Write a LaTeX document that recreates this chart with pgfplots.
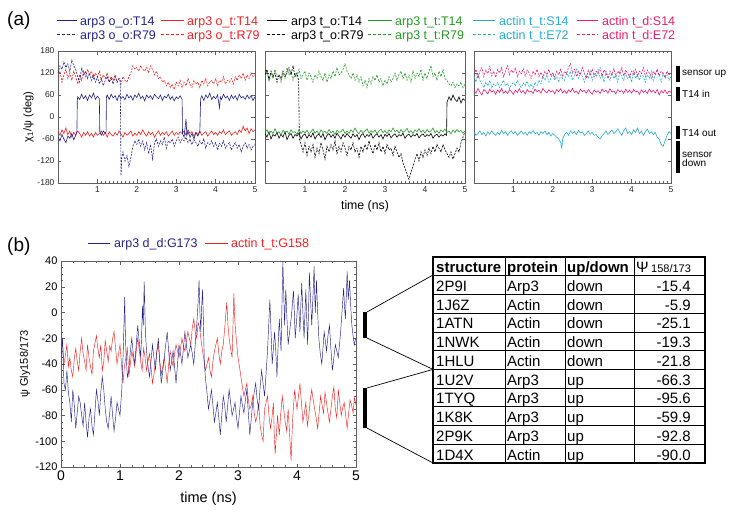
\documentclass[border=0pt]{standalone}
\usepackage{pgfplots}
\pgfplotsset{compat=1.18}
\usepackage{fontspec}
\setmainfont{Liberation Sans}

\definecolor{cnavy}{RGB}{35,35,135}
\definecolor{cred}{RGB}{235,35,35}
\definecolor{cgreen}{RGB}{40,150,40}
\definecolor{ccyan}{RGB}{40,170,210}
\definecolor{cpink}{RGB}{230,30,110}
\definecolor{cframe}{RGB}{95,95,95}

\pgfplotsset{
  panelA/.style={anchor=north west, scale only axis, height=132pt,
    xmin=0, xmax=5, ymin=-180, ymax=180,
    xtick={1,2,3,4,5}, minor x tick num=9,
    ytick={-180,-120,...,180},
    axis line style={cframe}, tick style={cframe, line width=0.4pt},
    major tick length=3.5pt, minor tick length=2pt,
    tick label style={font=\fontsize{8.5}{9}\selectfont, text=black!85},
    /pgf/number format/assume math mode=true},
  sol/.style={line width=0.6pt},
  dsh/.style={line width=0.6pt, dash pattern=on 2pt off 1.2pt},
}

\begin{document}
\begin{tikzpicture}
\path[use as bounding box] (0,0) rectangle (729pt,-514pt);

% ---------- (a) legend ----------
\node[anchor=base west, inner sep=0, font=\fontsize{19}{20}\selectfont] at (7pt,-25pt) {(a)};
\begin{scope}[font=\fontsize{12.5}{13}\selectfont]
\foreach \xa/\xb/\xt/\col/\la/\lb in {
  57/77/80/cnavy/arp3 o\_o:T14/arp3 o\_o:R79,
  161/184/187/cred/arp3 o\_t:T14/arp3 o\_t:R79,
  267/287/291/black/arp3 t\_o:T14/arp3 t\_o:R79,
  368/392/395/cgreen/arp3 t\_t:T14/arp3 t\_t:R79,
  473/495/499/ccyan/actin t\_t:S14/actin t\_t:E72,
  577/598/602/cpink/actin t\_d:S14/actin t\_d:E72}{
  \draw[\col, line width=0.9pt] (\xa pt,-20.5pt) -- (\xb pt,-20.5pt);
  \node[anchor=base west, inner sep=0, text=\col] at (\xt pt,-25pt) {\la};
  \draw[\col, line width=0.9pt, dash pattern=on 3pt off 2pt] (\xa pt,-34.5pt) -- (\xb pt,-34.5pt);
  \node[anchor=base west, inner sep=0, text=\col] at (\xt pt,-39pt) {\lb};
}
\end{scope}

% ---------- (a) panel 1 ----------
\begin{axis}[panelA, at={(58pt,-51pt)}, width=197pt,
  ylabel={χ\textsubscript{1}/ψ (deg)},
  ylabel style={at={(axis description cs:-0.15,0.5)}, anchor=center, font=\fontsize{11}{12}\selectfont}]
\addplot[dsh, cred] coordinates {(0,110)(0.05,125)(0.1,95)(0.15,115)(0.2,130)(0.25,105)(0.3,120)(0.35,100)(0.4,125)(0.45,110)(0.5,90)(0.55,115)(0.6,100)(0.65,125)(0.7,110)(0.75,130)(0.8,115)(0.85,125)(0.9,105)(0.95,120)(1.0,110)(1.05,125)(1.1,100)(1.15,115)(1.2,105)(1.25,120)(1.3,95)(1.35,110)(1.4,100)(1.45,115)(1.5,95)(1.55,105)(1.6,90)(1.65,110)(1.7,100)(1.75,95)(1.8,110)(1.85,120)(1.9,140)(1.95,130)(2.0,135)(2.05,125)(2.1,140)(2.15,130)(2.2,125)(2.25,135)(2.3,120)(2.35,140)(2.4,130)(2.45,115)(2.5,125)(2.55,105)(2.6,110)(2.65,95)(2.7,100)(2.75,85)(2.8,95)(2.85,80)(2.9,90)(2.95,75)(3.0,95)(3.05,85)(3.1,100)(3.15,80)(3.2,95)(3.25,85)(3.3,105)(3.35,90)(3.4,80)(3.45,100)(3.5,90)(3.55,95)(3.6,80)(3.65,100)(3.7,90)(3.75,105)(3.8,85)(3.85,95)(3.9,100)(3.95,90)(4.0,105)(4.05,85)(4.1,100)(4.15,95)(4.2,110)(4.25,90)(4.3,100)(4.35,95)(4.4,105)(4.45,90)(4.5,110)(4.55,100)(4.6,115)(4.65,105)(4.7,120)(4.75,100)(4.8,115)(4.85,105)(4.9,120)(4.95,110)(5.0,115)};
\addplot[dsh, cnavy] coordinates {(0,120)(0.05,140)(0.1,130)(0.15,150)(0.2,135)(0.25,145)(0.3,125)(0.35,155)(0.4,140)(0.45,130)(0.5,110)(0.55,95)(0.6,135)(0.65,115)(0.7,125)(0.75,105)(0.8,120)(0.85,100)(0.9,115)(0.95,95)(1.0,110)(1.05,90)(1.1,105)(1.15,85)(1.2,100)(1.25,110)(1.3,95)(1.35,105)(1.4,90)(1.45,110)(1.5,95)(1.55,105)(1.58,100)(1.6,-160)(1.62,-110)(1.65,-95)(1.7,-120)(1.75,-105)(1.8,-135)(1.85,-110)(1.9,-80)(1.95,-65)(2.0,-75)(2.05,-60)(2.1,-80)(2.15,-65)(2.2,-90)(2.25,-70)(2.3,-100)(2.35,-75)(2.4,-115)(2.45,-70)(2.5,-60)(2.55,-80)(2.6,-65)(2.65,-75)(2.7,-55)(2.75,-85)(2.8,-65)(2.85,-70)(2.9,-60)(2.95,-80)(3.0,-65)(3.05,-55)(3.1,-70)(3.15,-60)(3.2,-65)(3.25,-55)(3.3,-70)(3.35,-60)(3.4,-75)(3.45,-62)(3.5,-70)(3.55,-80)(3.6,-65)(3.65,-75)(3.7,-60)(3.75,-85)(3.8,-70)(3.85,-75)(3.9,-65)(3.95,-80)(4.0,-70)(4.05,-90)(4.1,-72)(4.15,-80)(4.2,-65)(4.25,-85)(4.3,-75)(4.35,-70)(4.4,-90)(4.45,-78)(4.5,-70)(4.55,-85)(4.6,-75)(4.65,-95)(4.7,-80)(4.75,-70)(4.8,-85)(4.85,-75)(4.9,-90)(4.95,-80)(5.0,-75)};
\addplot[sol, cred] coordinates {(0,-40)(0.05,-50)(0.1,-35)(0.15,-45)(0.2,-30)(0.25,-48)(0.3,-38)(0.35,-55)(0.4,-42)(0.45,-50)(0.5,-38)(0.55,-45)(0.6,-55)(0.65,-42)(0.7,-50)(0.75,-40)(0.8,-52)(0.85,-45)(0.9,-55)(0.95,-42)(1.0,-50)(1.05,-45)(1.1,-38)(1.15,-50)(1.2,-43)(1.25,-55)(1.3,-40)(1.35,-48)(1.4,-52)(1.45,-42)(1.5,-50)(1.55,-38)(1.6,-47)(1.65,-55)(1.7,-42)(1.75,-50)(1.8,-45)(1.85,-38)(1.9,-52)(1.95,-44)(2.0,-50)(2.05,-40)(2.1,-48)(2.15,-35)(2.2,-45)(2.25,-52)(2.3,-40)(2.35,-48)(2.4,-42)(2.45,-55)(2.5,-45)(2.55,-38)(2.6,-50)(2.65,-42)(2.7,-48)(2.75,-40)(2.8,-52)(2.85,-45)(2.9,-38)(2.95,-50)(3.0,-42)(3.05,-48)(3.1,-40)(3.15,-45)(3.2,-38)(3.25,-50)(3.3,-35)(3.35,-45)(3.4,-40)(3.45,-52)(3.5,-42)(3.55,-48)(3.6,-38)(3.65,-50)(3.7,-44)(3.75,-40)(3.8,-52)(3.85,-45)(3.9,-38)(3.95,-48)(4.0,-42)(4.05,-50)(4.1,-40)(4.15,-45)(4.2,-35)(4.25,-48)(4.3,-42)(4.35,-38)(4.4,-50)(4.45,-44)(4.5,-40)(4.55,-48)(4.6,-35)(4.65,-42)(4.7,-25)(4.75,-38)(4.8,-30)(4.85,-45)(4.9,-32)(4.95,-40)(5.0,-35)};
\addplot[sol, cnavy] coordinates {(0,-55)(0.05,-65)(0.1,-48)(0.15,-60)(0.2,-70)(0.25,-52)(0.3,-58)(0.35,-45)(0.4,-62)(0.45,-50)(0.48,-40)(0.49,45)(0.5,55)(0.55,48)(0.6,62)(0.65,50)(0.7,58)(0.75,45)(0.8,60)(0.85,52)(0.9,65)(0.95,48)(1.0,57)(1.05,50)(1.06,-40)(1.1,-50)(1.15,-38)(1.2,-45)(1.22,-40)(1.23,55)(1.25,60)(1.3,48)(1.35,62)(1.4,52)(1.45,58)(1.5,45)(1.55,60)(1.6,50)(1.65,56)(1.7,47)(1.75,62)(1.8,52)(1.85,58)(1.9,46)(1.95,60)(2.0,53)(2.05,65)(2.1,50)(2.15,57)(2.2,44)(2.25,60)(2.3,52)(2.35,58)(2.4,48)(2.45,62)(2.5,55)(2.55,50)(2.6,60)(2.65,45)(2.7,57)(2.75,52)(2.8,62)(2.85,48)(2.9,56)(2.95,44)(3.0,55)(3.05,50)(3.1,58)(3.15,48)(3.16,-45)(3.2,-55)(3.25,-5)(3.27,-50)(3.3,-40)(3.35,-55)(3.4,-45)(3.45,-60)(3.5,-42)(3.55,-52)(3.6,-40)(3.62,50)(3.65,58)(3.7,45)(3.75,60)(3.8,52)(3.85,65)(3.9,48)(3.95,56)(4.0,50)(4.05,60)(4.1,25)(4.12,55)(4.15,48)(4.2,62)(4.25,52)(4.3,57)(4.35,45)(4.4,60)(4.45,50)(4.5,58)(4.55,46)(4.6,62)(4.65,52)(4.7,56)(4.75,48)(4.8,60)(4.85,50)(4.9,58)(4.95,45)(5.0,55)};
\end{axis}

% ---------- (a) panel 2 ----------
\begin{axis}[panelA, at={(265pt,-51pt)}, width=200pt, yticklabels={},
  xlabel={time (ns)},
  xlabel style={at={(axis description cs:0.5,-0.18)}, anchor=center, font=\fontsize{12.3}{13}\selectfont}]
\addplot[dsh, cgreen] coordinates {(0,110)(0.05,125)(0.1,100)(0.15,120)(0.2,105)(0.25,130)(0.3,110)(0.35,115)(0.4,95)(0.45,120)(0.5,105)(0.55,135)(0.6,115)(0.65,125)(0.7,100)(0.75,120)(0.8,110)(0.85,130)(0.9,105)(0.95,115)(1.0,125)(1.05,100)(1.1,120)(1.15,110)(1.2,95)(1.25,115)(1.3,105)(1.35,125)(1.4,110)(1.45,100)(1.5,120)(1.55,95)(1.6,115)(1.65,105)(1.7,125)(1.75,110)(1.8,135)(1.85,115)(1.9,120)(1.95,130)(2.0,145)(2.05,125)(2.1,115)(2.15,105)(2.2,120)(2.25,100)(2.3,115)(2.35,95)(2.4,110)(2.45,85)(2.5,100)(2.55,80)(2.6,105)(2.65,90)(2.7,110)(2.75,100)(2.8,115)(2.85,95)(2.9,105)(2.95,85)(3.0,100)(3.05,90)(3.1,110)(3.15,95)(3.2,105)(3.25,120)(3.3,100)(3.35,115)(3.4,125)(3.45,105)(3.5,120)(3.55,100)(3.6,115)(3.65,95)(3.7,125)(3.75,105)(3.8,120)(3.85,110)(3.9,130)(3.95,100)(4.0,120)(4.05,105)(4.1,125)(4.15,140)(4.2,110)(4.25,120)(4.3,100)(4.35,125)(4.4,110)(4.45,130)(4.5,105)(4.55,100)(4.6,90)(4.65,85)(4.7,95)(4.75,80)(4.8,90)(4.85,85)(4.9,95)(4.95,80)(5.0,90)};
\addplot[dsh, black] coordinates {(0,115)(0.05,130)(0.1,100)(0.15,125)(0.2,110)(0.25,120)(0.3,95)(0.35,115)(0.4,105)(0.45,125)(0.5,110)(0.55,120)(0.6,135)(0.65,115)(0.7,140)(0.75,110)(0.8,120)(0.84,100)(0.86,-60)(0.9,-75)(0.95,-95)(1.0,-70)(1.05,-105)(1.1,-80)(1.15,-95)(1.2,-75)(1.25,-110)(1.3,-85)(1.35,-100)(1.4,-70)(1.45,-90)(1.5,-115)(1.55,-80)(1.6,-95)(1.65,-75)(1.7,-90)(1.75,-65)(1.8,-100)(1.85,-80)(1.9,-95)(1.95,-70)(2.0,-85)(2.05,-105)(2.1,-80)(2.15,-90)(2.2,-70)(2.25,-95)(2.3,-85)(2.35,-110)(2.4,-80)(2.45,-95)(2.5,-75)(2.55,-90)(2.6,-65)(2.65,-85)(2.7,-100)(2.75,-75)(2.8,-90)(2.85,-70)(2.9,-95)(2.95,-80)(3.0,-100)(3.05,-75)(3.1,-90)(3.15,-85)(3.2,-105)(3.25,-80)(3.3,-95)(3.35,-110)(3.4,-100)(3.45,-125)(3.5,-140)(3.55,-155)(3.6,-170)(3.65,-150)(3.7,-135)(3.75,-115)(3.8,-100)(3.85,-120)(3.9,-95)(3.95,-110)(4.0,-90)(4.05,-105)(4.1,-85)(4.15,-100)(4.2,-80)(4.25,-95)(4.3,-75)(4.35,-85)(4.4,-95)(4.45,-75)(4.5,-90)(4.55,-100)(4.6,-110)(4.65,-95)(4.7,-115)(4.75,-100)(4.8,-85)(4.85,-95)(4.9,-70)(4.95,-55)(5.0,-40)};
\addplot[sol, black] coordinates {(0,-45)(0.05,-55)(0.1,-40)(0.15,-60)(0.2,-48)(0.25,-52)(0.3,-42)(0.35,-58)(0.4,-47)(0.45,-55)(0.5,-40)(0.55,-62)(0.6,-50)(0.65,-45)(0.7,-58)(0.75,-48)(0.8,-52)(0.85,-44)(0.9,-60)(0.95,-50)(1.0,-46)(1.05,-58)(1.1,-48)(1.15,-55)(1.2,-43)(1.25,-60)(1.3,-50)(1.35,-47)(1.4,-56)(1.45,-45)(1.5,-62)(1.55,-50)(1.6,-45)(1.65,-55)(1.7,-48)(1.75,-58)(1.8,-44)(1.85,-52)(1.9,-60)(1.95,-47)(2.0,-55)(2.05,-45)(2.1,-52)(2.15,-58)(2.2,-46)(2.25,-54)(2.3,-48)(2.35,-62)(2.4,-50)(2.45,-45)(2.5,-56)(2.55,-48)(2.6,-53)(2.65,-44)(2.7,-58)(2.75,-50)(2.8,-46)(2.85,-55)(2.9,-48)(2.95,-60)(3.0,-47)(3.05,-53)(3.1,-45)(3.15,-57)(3.2,-50)(3.25,-46)(3.3,-55)(3.35,-48)(3.4,-52)(3.45,-44)(3.5,-58)(3.55,-50)(3.6,-47)(3.65,-55)(3.7,-48)(3.75,-52)(3.8,-45)(3.85,-57)(3.9,-50)(3.95,-46)(4.0,-54)(4.05,-48)(4.1,-52)(4.15,-45)(4.2,-58)(4.25,-50)(4.3,-47)(4.35,-55)(4.4,-48)(4.45,-52)(4.5,-46)(4.54,-50)(4.55,40)(4.6,55)(4.65,45)(4.7,60)(4.75,48)(4.8,42)(4.85,55)(4.9,38)(4.95,50)(5.0,45)};
\addplot[sol, cgreen] coordinates {(0,-42)(0.05,-35)(0.1,-48)(0.15,-38)(0.2,-45)(0.25,-32)(0.3,-44)(0.35,-40)(0.4,-50)(0.45,-36)(0.5,-43)(0.55,-38)(0.6,-47)(0.65,-35)(0.7,-42)(0.75,-40)(0.8,-48)(0.85,-34)(0.9,-45)(0.95,-38)(1.0,-43)(1.05,-36)(1.1,-46)(1.15,-40)(1.2,-33)(1.25,-44)(1.3,-38)(1.35,-47)(1.4,-35)(1.45,-42)(1.5,-39)(1.55,-45)(1.6,-34)(1.65,-43)(1.7,-38)(1.75,-48)(1.8,-36)(1.85,-42)(1.9,-40)(1.95,-33)(2.0,-45)(2.05,-38)(2.1,-44)(2.15,-35)(2.2,-42)(2.25,-30)(2.3,-40)(2.35,-46)(2.4,-36)(2.45,-43)(2.5,-38)(2.55,-32)(2.6,-44)(2.65,-37)(2.7,-42)(2.75,-35)(2.8,-46)(2.85,-38)(2.9,-33)(2.95,-43)(3.0,-37)(3.05,-45)(3.1,-35)(3.15,-41)(3.2,-30)(3.25,-40)(3.3,-36)(3.35,-44)(3.4,-34)(3.45,-42)(3.5,-38)(3.55,-31)(3.6,-43)(3.65,-37)(3.7,-45)(3.75,-35)(3.8,-40)(3.85,-32)(3.9,-42)(3.95,-36)(4.0,-44)(4.05,-34)(4.1,-41)(4.15,-38)(4.2,-30)(4.25,-43)(4.3,-37)(4.35,-45)(4.4,-35)(4.45,-40)(4.5,-33)(4.55,-42)(4.6,-38)(4.65,-46)(4.7,-36)(4.75,-42)(4.8,-34)(4.85,-40)(4.9,-37)(4.95,-44)(5.0,-38)};
\end{axis}

% ---------- (a) panel 3 ----------
\begin{axis}[panelA, at={(474pt,-51pt)}, width=197pt, yticklabels={}]
\addplot[dsh, ccyan] coordinates {(0,110)(0.05,95)(0.1,120)(0.15,100)(0.2,90)(0.25,80)(0.3,95)(0.35,85)(0.4,100)(0.45,80)(0.5,90)(0.55,85)(0.6,95)(0.65,80)(0.7,90)(0.75,100)(0.8,85)(0.85,92)(0.9,78)(0.95,88)(1.0,95)(1.05,85)(1.1,100)(1.15,88)(1.2,80)(1.25,92)(1.3,85)(1.35,98)(1.4,82)(1.45,90)(1.5,75)(1.55,95)(1.6,85)(1.65,100)(1.7,90)(1.75,110)(1.8,100)(1.85,115)(1.9,95)(1.95,105)(2.0,120)(2.05,100)(2.1,110)(2.15,95)(2.2,115)(2.25,105)(2.3,100)(2.35,120)(2.4,110)(2.45,125)(2.5,100)(2.55,115)(2.6,130)(2.65,105)(2.7,120)(2.75,110)(2.8,95)(2.85,115)(2.9,105)(2.95,125)(3.0,100)(3.05,120)(3.1,110)(3.15,130)(3.2,105)(3.25,115)(3.3,95)(3.35,125)(3.4,110)(3.45,100)(3.5,120)(3.55,105)(3.6,115)(3.65,95)(3.7,125)(3.75,110)(3.8,100)(3.85,120)(3.9,105)(3.95,115)(4.0,95)(4.05,125)(4.1,105)(4.15,115)(4.2,100)(4.25,120)(4.3,110)(4.35,95)(4.4,115)(4.45,105)(4.5,125)(4.55,100)(4.6,115)(4.65,130)(4.7,110)(4.75,95)(4.8,120)(4.85,105)(4.9,115)(4.95,100)(5.0,110)};
\addplot[dsh, cpink] coordinates {(0,115)(0.05,130)(0.1,105)(0.15,125)(0.2,135)(0.25,110)(0.3,128)(0.35,118)(0.4,138)(0.45,112)(0.5,125)(0.55,108)(0.6,130)(0.65,120)(0.7,135)(0.75,110)(0.8,125)(0.85,140)(0.9,115)(0.95,128)(1.0,120)(1.05,135)(1.1,110)(1.15,125)(1.2,118)(1.25,132)(1.3,112)(1.35,128)(1.4,120)(1.45,105)(1.5,125)(1.55,115)(1.6,130)(1.65,110)(1.7,122)(1.75,108)(1.8,125)(1.85,115)(1.9,130)(1.95,112)(2.0,120)(2.05,108)(2.1,125)(2.15,115)(2.2,130)(2.25,110)(2.3,125)(2.35,118)(2.4,135)(2.45,145)(2.5,120)(2.55,130)(2.6,110)(2.65,125)(2.7,115)(2.75,135)(2.8,120)(2.85,105)(2.9,128)(2.95,115)(3.0,130)(3.05,110)(3.1,125)(3.15,118)(3.2,135)(3.25,112)(3.3,128)(3.35,120)(3.4,105)(3.45,125)(3.5,115)(3.55,132)(3.6,110)(3.65,125)(3.7,118)(3.75,135)(3.8,112)(3.85,128)(3.9,120)(3.95,108)(4.0,125)(4.05,115)(4.1,130)(4.15,112)(4.2,125)(4.25,118)(4.3,135)(4.35,110)(4.4,128)(4.45,120)(4.5,105)(4.55,125)(4.6,115)(4.65,130)(4.7,112)(4.75,125)(4.8,118)(4.85,108)(4.9,125)(4.95,115)(5.0,120)};
\addplot[sol, cpink] coordinates {(0,72)(0.05,65)(0.1,78)(0.15,68)(0.2,60)(0.25,75)(0.3,70)(0.35,63)(0.4,76)(0.45,68)(0.5,72)(0.55,62)(0.6,74)(0.65,67)(0.7,78)(0.75,65)(0.8,71)(0.85,64)(0.9,75)(0.95,69)(1.0,62)(1.05,73)(1.1,67)(1.15,77)(1.2,66)(1.25,72)(1.3,63)(1.35,75)(1.4,68)(1.45,71)(1.5,64)(1.55,76)(1.6,69)(1.65,73)(1.7,65)(1.75,78)(1.8,70)(1.85,66)(1.9,74)(1.95,68)(2.0,72)(2.05,63)(2.1,75)(2.15,69)(2.2,77)(2.25,66)(2.3,72)(2.35,64)(2.4,74)(2.45,68)(2.5,78)(2.55,67)(2.6,71)(2.65,63)(2.7,76)(2.75,69)(2.8,73)(2.85,65)(2.9,75)(2.95,68)(3.0,62)(3.05,74)(3.1,67)(3.15,72)(3.2,64)(3.25,76)(3.3,69)(3.35,73)(3.4,65)(3.45,77)(3.5,68)(3.55,71)(3.6,63)(3.65,75)(3.7,69)(3.75,72)(3.8,64)(3.85,76)(3.9,67)(3.95,73)(4.0,65)(4.05,75)(4.1,68)(4.15,71)(4.2,62)(4.25,74)(4.3,67)(4.35,72)(4.4,64)(4.45,76)(4.5,68)(4.55,73)(4.6,65)(4.65,75)(4.7,60)(4.75,72)(4.8,66)(4.85,74)(4.9,63)(4.95,71)(5.0,67)};
\addplot[sol, ccyan] coordinates {(0,-40)(0.05,-50)(0.1,-45)(0.15,-38)(0.2,-48)(0.25,-42)(0.3,-52)(0.35,-40)(0.4,-47)(0.45,-38)(0.5,-45)(0.55,-50)(0.6,-42)(0.65,-48)(0.7,-36)(0.75,-45)(0.8,-40)(0.85,-50)(0.9,-43)(0.95,-38)(1.0,-46)(1.05,-40)(1.1,-50)(1.15,-44)(1.2,-38)(1.25,-47)(1.3,-42)(1.35,-50)(1.4,-40)(1.45,-45)(1.5,-37)(1.55,-46)(1.6,-42)(1.65,-50)(1.7,-40)(1.75,-45)(1.8,-38)(1.85,-48)(1.9,-42)(1.95,-52)(2.0,-45)(2.05,-50)(2.1,-55)(2.15,-60)(2.2,-70)(2.23,-85)(2.25,-60)(2.3,-48)(2.35,-42)(2.4,-50)(2.45,-38)(2.5,-45)(2.55,-40)(2.6,-48)(2.65,-36)(2.7,-44)(2.75,-40)(2.8,-50)(2.85,-45)(2.9,-38)(2.95,-47)(3.0,-42)(3.05,-50)(3.1,-48)(3.15,-55)(3.2,-60)(3.25,-52)(3.3,-45)(3.35,-38)(3.4,-48)(3.45,-42)(3.5,-35)(3.55,-45)(3.6,-40)(3.65,-32)(3.7,-42)(3.75,-50)(3.8,-38)(3.85,-30)(3.9,-45)(3.95,-40)(4.0,-48)(4.05,-35)(4.1,-42)(4.15,-30)(4.2,-45)(4.25,-38)(4.3,-50)(4.35,-40)(4.4,-33)(4.45,-45)(4.5,-40)(4.55,-48)(4.6,-42)(4.65,-55)(4.7,-60)(4.75,-75)(4.8,-80)(4.85,-65)(4.9,-50)(4.95,-40)(5.0,-45)};
\end{axis}

% annotations right of panel 3
\begin{scope}[font=\fontsize{10}{11}\selectfont]
\draw[line width=4pt] (678pt,-66pt) -- (678pt,-82pt);
\draw[line width=4pt] (678pt,-87pt) -- (678pt,-101pt);
\draw[line width=4pt] (678pt,-126pt) -- (678pt,-139pt);
\draw[line width=4pt] (678pt,-141pt) -- (678pt,-173pt);
\node[anchor=west, inner sep=0] at (682pt,-74pt) {sensor up};
\node[anchor=west, inner sep=0] at (682pt,-94pt) {T14 in};
\node[anchor=west, inner sep=0] at (682pt,-133pt) {T14 out};
\node[anchor=west, inner sep=0, align=left] at (682pt,-159pt) {sensor\\[-2pt]down};
\end{scope}

% ---------- (b) ----------
\node[anchor=base west, inner sep=0, font=\fontsize{19}{20}\selectfont] at (7pt,-251pt) {(b)};
\begin{scope}[font=\fontsize{12.5}{13}\selectfont]
\draw[cnavy, line width=0.9pt] (88pt,-243pt) -- (110pt,-243pt);
\node[anchor=base west, inner sep=0, text=cnavy] at (114pt,-247.5pt) {arp3 d\_d:G173};
\draw[cred, line width=0.9pt] (205pt,-243pt) -- (228pt,-243pt);
\node[anchor=base west, inner sep=0, text=cred] at (231pt,-247.5pt) {actin t\_t:G158};
\end{scope}

\begin{axis}[anchor=north west, at={(61pt,-261pt)}, scale only axis, width=295pt, height=206pt,
  xmin=0, xmax=5, ymin=-120, ymax=40,
  xtick={0,...,5}, minor x tick num=4,
  ytick={-120,-100,...,40}, minor y tick num=3,
  axis line style={cframe}, tick style={cframe, line width=0.4pt},
  major tick length=3.5pt, minor tick length=2pt,
  xticklabel style={font=\fontsize{14}{15}\selectfont},
  yticklabel style={font=\fontsize{11}{12}\selectfont},
  /pgf/number format/assume math mode=true,
  xlabel={time (ns)},
  xlabel style={at={(axis description cs:0.5,-0.155)}, anchor=center, font=\fontsize{14.5}{15}\selectfont},
  ylabel={ψ Gly158/173},
  ylabel style={at={(axis description cs:-0.122,0.5)}, anchor=center, font=\fontsize{11}{12}\selectfont}]
\addplot[line width=0.45pt, cred] coordinates {(0,-30)(0.025,-22)(0.05,-40)(0.075,-33)(0.1,-25)(0.125,-42)(0.15,-35)(0.175,-45)(0.2,-50)(0.225,-36)(0.25,-28)(0.275,-38)(0.3,-45)(0.325,-30)(0.35,-20)(0.375,-32)(0.4,-38)(0.425,-45)(0.45,-25)(0.475,-35)(0.5,-42)(0.525,-48)(0.55,-30)(0.575,-24)(0.6,-18)(0.625,-28)(0.65,-35)(0.675,-25)(0.7,-45)(0.725,-38)(0.75,-22)(0.775,-30)(0.8,-38)(0.825,-26)(0.85,-30)(0.875,-20)(0.9,-15)(0.925,-28)(0.95,-40)(0.975,-32)(1.0,-25)(1.025,-40)(1.05,-55)(1.075,-42)(1.1,-35)(1.125,-28)(1.15,-50)(1.175,-40)(1.2,-30)(1.225,-36)(1.25,-42)(1.275,-30)(1.3,-20)(1.325,-28)(1.35,-38)(1.375,-45)(1.4,-28)(1.425,-35)(1.45,-45)(1.475,-38)(1.5,-32)(1.525,-42)(1.55,-55)(1.575,-48)(1.6,-40)(1.625,-30)(1.65,-25)(1.675,-38)(1.7,-48)(1.725,-42)(1.75,-35)(1.775,-45)(1.8,-55)(1.825,-40)(1.85,-30)(1.875,-36)(1.9,-42)(1.925,-32)(1.95,-25)(1.975,-30)(2.0,-35)(2.025,-28)(2.05,-20)(2.075,-26)(2.1,-30)(2.125,-22)(2.15,-15)(2.175,-20)(2.2,-25)(2.225,-12)(2.25,-5)(2.275,-15)(2.3,-20)(2.325,-8)(2.35,-12)(2.375,-22)(2.4,-30)(2.425,-38)(2.45,-45)(2.475,-40)(2.5,-35)(2.525,-45)(2.55,-50)(2.575,-38)(2.6,-30)(2.625,-25)(2.65,-20)(2.675,-32)(2.7,-40)(2.725,-30)(2.75,-25)(2.775,-12)(2.81,8)(2.83,-10)(2.85,-20)(2.875,-28)(2.9,-35)(2.915,-10)(2.93,15)(2.945,-5)(2.96,-15)(2.98,-25)(3.0,-35)(3.025,-42)(3.05,-50)(3.075,-58)(3.1,-65)(3.125,-60)(3.15,-55)(3.175,-68)(3.2,-75)(3.225,-72)(3.25,-65)(3.275,-78)(3.3,-85)(3.325,-80)(3.35,-70)(3.375,-88)(3.4,-95)(3.425,-100)(3.45,-75)(3.475,-70)(3.5,-65)(3.525,-80)(3.55,-90)(3.575,-82)(3.6,-70)(3.615,-95)(3.63,-110)(3.65,-95)(3.67,-80)(3.685,-88)(3.7,-95)(3.725,-78)(3.75,-65)(3.775,-75)(3.8,-85)(3.825,-92)(3.85,-75)(3.875,-95)(3.9,-115)(3.915,-95)(3.93,-80)(3.945,-70)(3.96,-60)(3.98,-68)(4.0,-75)(4.025,-65)(4.05,-55)(4.075,-70)(4.1,-85)(4.125,-78)(4.15,-70)(4.175,-88)(4.2,-80)(4.225,-68)(4.25,-60)(4.275,-68)(4.3,-75)(4.325,-82)(4.35,-90)(4.375,-78)(4.4,-65)(4.425,-72)(4.45,-78)(4.475,-62)(4.5,-70)(4.525,-78)(4.55,-85)(4.575,-75)(4.6,-65)(4.625,-58)(4.65,-75)(4.675,-82)(4.7,-60)(4.725,-70)(4.75,-80)(4.775,-74)(4.8,-70)(4.825,-80)(4.85,-90)(4.875,-78)(4.9,-68)(4.925,-72)(4.95,-78)(4.975,-66)(5.0,-72)};
\addplot[line width=0.45pt, cnavy] coordinates {(0,-35)(0.025,-20)(0.05,-55)(0.075,-60)(0.1,-45)(0.125,-62)(0.15,-70)(0.175,-85)(0.2,-60)(0.225,-72)(0.25,-90)(0.275,-78)(0.3,-65)(0.325,-70)(0.35,-80)(0.375,-88)(0.4,-70)(0.425,-85)(0.45,-97)(0.475,-82)(0.5,-75)(0.525,-88)(0.55,-95)(0.575,-78)(0.6,-60)(0.625,-68)(0.65,-80)(0.675,-62)(0.7,-50)(0.725,-60)(0.75,-75)(0.775,-85)(0.8,-90)(0.825,-78)(0.85,-65)(0.875,-80)(0.9,-92)(0.925,-82)(0.95,-70)(0.975,-75)(1.0,-80)(1.015,-70)(1.03,-60)(1.055,-30)(1.08,12)(1.09,-15)(1.1,-30)(1.125,-50)(1.15,-45)(1.175,-30)(1.2,-20)(1.225,-32)(1.25,-40)(1.275,-25)(1.3,-10)(1.325,-22)(1.35,-35)(1.365,-20)(1.38,5)(1.395,-10)(1.41,24)(1.43,-15)(1.45,-30)(1.475,-42)(1.5,-50)(1.525,-38)(1.55,-25)(1.575,-35)(1.6,-45)(1.625,-30)(1.65,-20)(1.675,-40)(1.7,-55)(1.725,-45)(1.75,-35)(1.775,-25)(1.8,-15)(1.825,-30)(1.85,-45)(1.875,-38)(1.9,-30)(1.925,-42)(1.95,-55)(1.975,-40)(2.0,-25)(2.025,-32)(2.05,-40)(2.075,-28)(2.1,-15)(2.125,-25)(2.15,-35)(2.175,-30)(2.2,-25)(2.225,-32)(2.25,-40)(2.275,-25)(2.3,-10)(2.32,5)(2.34,25)(2.355,0)(2.37,-15)(2.385,5)(2.4,18)(2.415,-10)(2.43,-40)(2.45,-52)(2.47,-60)(2.485,-68)(2.5,-75)(2.525,-68)(2.55,-60)(2.575,-72)(2.6,-85)(2.625,-78)(2.65,-70)(2.675,-82)(2.7,-95)(2.725,-80)(2.75,-65)(2.775,-72)(2.8,-85)(2.825,-72)(2.85,-60)(2.875,-70)(2.9,-80)(2.925,-75)(2.95,-70)(2.975,-82)(3.0,-90)(3.025,-78)(3.05,-65)(3.075,-72)(3.1,-78)(3.125,-68)(3.15,-60)(3.175,-78)(3.2,-95)(3.225,-82)(3.25,-70)(3.275,-62)(3.3,-55)(3.325,-68)(3.35,-75)(3.375,-58)(3.4,-45)(3.425,-55)(3.45,-65)(3.475,-48)(3.5,-30)(3.52,-10)(3.54,10)(3.56,-15)(3.58,-40)(3.6,-28)(3.62,-15)(3.64,-30)(3.66,-50)(3.68,-25)(3.7,-5)(3.715,-18)(3.73,-30)(3.745,5)(3.76,40)(3.775,15)(3.79,-10)(3.8,5)(3.81,18)(3.83,-5)(3.85,-25)(3.875,-15)(3.9,-5)(3.92,5)(3.94,17)(3.955,0)(3.97,-20)(3.995,-5)(4.02,14)(4.035,0)(4.05,-15)(4.065,5)(4.08,23)(4.1,0)(4.12,-20)(4.135,0)(4.15,18)(4.165,-5)(4.18,-25)(4.195,0)(4.21,31)(4.23,10)(4.25,-10)(4.27,12)(4.29,36)(4.3,15)(4.31,0)(4.32,12)(4.33,25)(4.35,0)(4.37,-20)(4.395,-32)(4.42,-40)(4.44,-28)(4.46,-15)(4.48,-22)(4.5,-30)(4.525,-18)(4.55,-10)(4.575,-28)(4.6,-45)(4.625,-35)(4.65,-25)(4.675,-30)(4.7,-35)(4.72,-25)(4.74,-15)(4.765,2)(4.79,19)(4.805,5)(4.82,-5)(4.835,12)(4.85,32)(4.86,20)(4.87,10)(4.88,18)(4.89,25)(4.91,5)(4.93,-10)(4.95,-18)(4.97,-25)(4.985,-22)(5.0,-20)};
\end{axis}

% brackets linking (b) to the table
\draw[line width=4pt] (365pt,-312pt) -- (365pt,-338pt);
\draw[line width=4pt] (365pt,-388pt) -- (365pt,-428pt);
\draw[line width=0.7pt] (367pt,-312pt) -- (433pt,-275pt);
\draw[line width=0.7pt] (367pt,-338pt) -- (433pt,-369.4pt);
\draw[line width=0.7pt] (367pt,-388pt) -- (433pt,-369.4pt);
\draw[line width=0.7pt] (367pt,-428pt) -- (433pt,-463pt);

% table
\begin{scope}[font=\fontsize{15}{16}\selectfont]
\foreach \i in {1,...,10} \draw[line width=0.8pt] (433pt,{-257pt-\i*18.727pt}) -- (705pt,{-257pt-\i*18.727pt});
\foreach \x in {505,565,634} \draw[line width=0.8pt] (\x pt,-257pt) -- (\x pt,-463pt);
\draw[line width=1.1pt] (433pt,-257pt) rectangle (705pt,-463pt);
\node[anchor=base west, inner sep=0, font=\fontsize{15}{16}\selectfont\bfseries] at (436pt,-272.5pt) {structure};
\node[anchor=base west, inner sep=0, font=\fontsize{15}{16}\selectfont\bfseries] at (507pt,-272.5pt) {protein};
\node[anchor=base west, inner sep=0, font=\fontsize{15}{16}\selectfont\bfseries] at (567pt,-272.5pt) {up/down};
\node[anchor=base west, inner sep=0] at (636pt,-272.5pt) {Ψ};
\node[anchor=base west, inner sep=0, font=\fontsize{11}{12}\selectfont] at (651pt,-272pt) {158/173};
\foreach \ss/\pp/\uu/\psival [count=\i] in {2P9I/Arp3/down/-15.4, 1J6Z/Actin/down/-5.9, 1ATN/Actin/down/-25.1, 1NWK/Actin/down/-19.3, 1HLU/Actin/down/-21.8, 1U2V/Arp3/up/-66.3, 1TYQ/Arp3/up/-95.6, 1K8K/Arp3/up/-59.9, 2P9K/Arp3/up/-92.8, 1D4X/Actin/up/-90.0}{
  \node[anchor=base west, inner sep=0] at (436pt,{-257pt-(\i+1)*18.727pt+3pt}) {\ss};
  \node[anchor=base west, inner sep=0] at (507pt,{-257pt-(\i+1)*18.727pt+3pt}) {\pp};
  \node[anchor=base west, inner sep=0] at (567pt,{-257pt-(\i+1)*18.727pt+3pt}) {\uu};
  \node[anchor=base east, inner sep=0] at (691pt,{-257pt-(\i+1)*18.727pt+3pt}) {\psival};
}
\end{scope}
\end{tikzpicture}
\end{document}
